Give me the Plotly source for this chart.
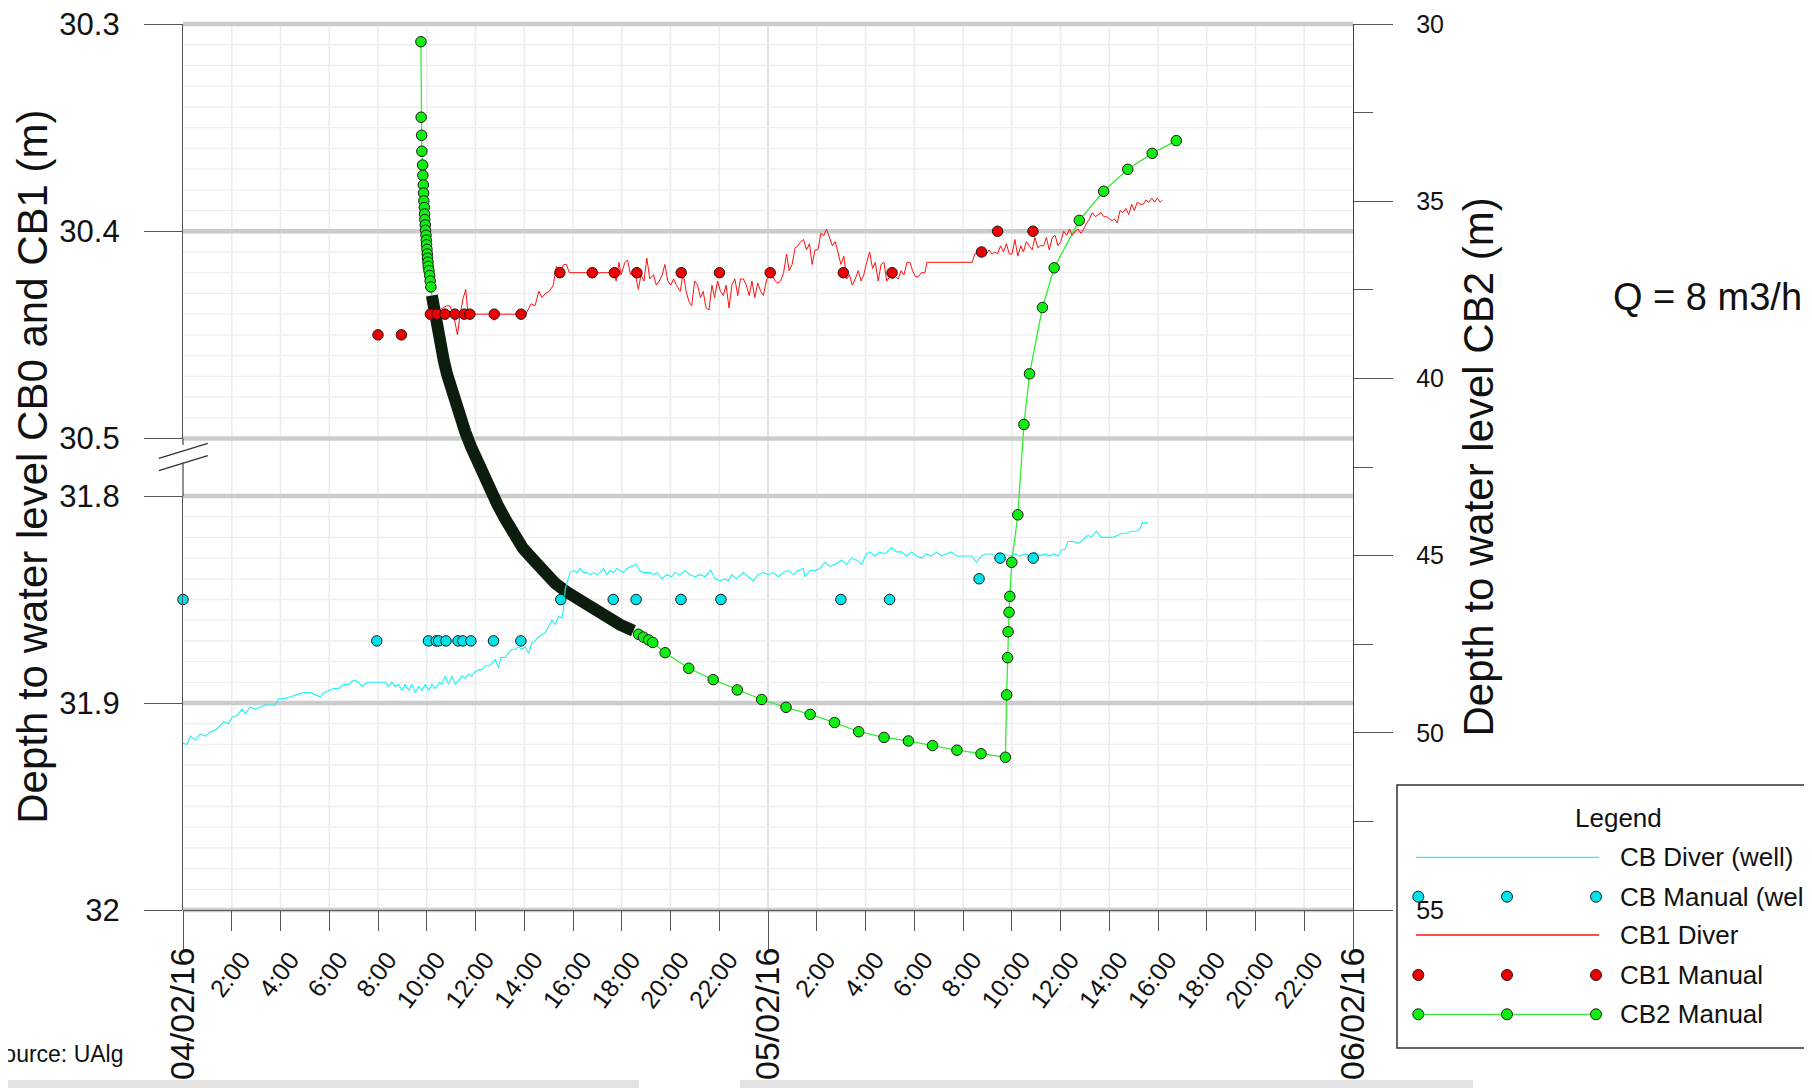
import plotly.graph_objects as go

# ---------------- DATA (time = hours since 04/02/16 00:00) ----------------
# CB Diver (well) - depth to water (m), lower left axis segment
cb_diver = [(0.00,31.9195),(0.17,31.920),(0.30,31.916),(0.51,31.918),(0.71,31.915),(0.92,31.916),(1.12,31.914),(1.33,31.913),(1.53,31.911),(1.67,31.909),(1.87,31.910),(2.01,31.907),(2.22,31.906),(2.42,31.903),(2.56,31.905),(2.76,31.902),(2.97,31.903),(3.17,31.902),(3.38,31.901),(3.58,31.901),(3.79,31.901),(3.92,31.898),(4.13,31.898),(4.40,31.897),(4.68,31.896),(4.95,31.895),(5.22,31.895),(5.43,31.896),(5.63,31.897),(5.77,31.895),(5.98,31.894),(6.18,31.893),(6.39,31.893),(6.59,31.891),(6.80,31.891),(7.00,31.889),(7.20,31.890),(7.34,31.892),(7.55,31.890),(7.82,31.890),(8.30,31.890),(8.43,31.892),(8.57,31.890),(8.71,31.892),(8.84,31.891),(8.98,31.894),(9.12,31.891),(9.26,31.894),(9.39,31.891),(9.53,31.895),(9.67,31.892),(9.80,31.894),(9.94,31.891),(10.08,31.894),(10.21,31.891),(10.35,31.893),(10.53,31.890),(10.62,31.891),(10.76,31.887),(10.89,31.891),(11.03,31.887),(11.17,31.891),(11.30,31.889),(11.44,31.887),(11.58,31.888),(11.72,31.886),(11.85,31.887),(11.99,31.885),(12.12,31.884),(12.26,31.884),(12.40,31.882),(12.54,31.882),(12.67,31.881),(12.81,31.879),(12.95,31.883),(13.04,31.878),(13.22,31.878),(13.36,31.876),(13.49,31.874),(13.63,31.874),(13.76,31.873),(13.90,31.874),(14.04,31.873),(14.18,31.876),(14.31,31.871),(14.45,31.870),(14.59,31.868),(14.72,31.867),(14.86,31.866),(15.00,31.863),(15.13,31.860),(15.27,31.862),(15.41,31.858),(15.54,31.859),(15.61,31.855),(15.68,31.845),(15.77,31.841),(15.88,31.837),(16.02,31.836),(16.16,31.837),(16.29,31.835),(16.43,31.837),(16.57,31.837),(16.70,31.838),(16.84,31.837),(16.98,31.838),(17.11,31.837),(17.25,31.835),(17.39,31.838),(17.52,31.836),(17.66,31.837),(17.80,31.835),(17.93,31.836),(18.07,31.837),(18.21,31.835),(18.41,31.834),(18.59,31.833),(18.73,31.836),(18.89,31.837),(19.03,31.837),(19.16,31.837),(19.30,31.838),(19.46,31.837),(19.64,31.840),(19.85,31.838),(20.05,31.839),(20.18,31.837),(20.39,31.838),(20.60,31.836),(20.80,31.838),(21.01,31.839),(21.21,31.838),(21.42,31.839),(21.65,31.836),(21.83,31.840),(22.03,31.841),(22.24,31.840),(22.37,31.841),(22.51,31.838),(22.71,31.840),(22.99,31.837),(23.19,31.839),(23.40,31.841),(23.60,31.838),(23.81,31.837),(24.01,31.838),(24.22,31.837),(24.42,31.839),(24.63,31.837),(24.83,31.836),(25.04,31.838),(25.24,31.836),(25.45,31.835),(25.51,31.839),(25.72,31.836),(25.93,31.836),(26.13,31.835),(26.34,31.832),(26.54,31.834),(26.75,31.833),(27.02,31.831),(27.22,31.833),(27.43,31.830),(27.63,31.831),(27.84,31.833),(28.04,31.828),(28.18,31.827),(28.38,31.829),(28.59,31.827),(28.80,31.828),(29.07,31.825),(29.27,31.827),(29.48,31.827),(29.68,31.829),(29.89,31.827),(30.09,31.829),(30.30,31.830),(30.50,31.828),(30.71,31.829),(30.91,31.827),(31.12,31.829),(31.32,31.828),(31.53,31.827),(31.73,31.829),(31.94,31.829),(32.14,31.829),(32.35,31.829),(32.55,31.832),(32.76,31.829),(32.96,31.828),(33.17,31.828),(33.37,31.829),(33.65,31.828),(33.92,31.829),(34.13,31.828),(34.33,31.829),(34.54,31.828),(34.74,31.829),(34.95,31.827),(35.15,31.829),(35.36,31.828),(35.56,31.829),(35.70,31.828),(35.90,31.829),(36.04,31.826),(36.18,31.826),(36.31,31.822),(36.52,31.822),(36.72,31.823),(36.93,31.821),(37.13,31.819),(37.27,31.820),(37.47,31.817),(37.68,31.820),(37.88,31.820),(38.16,31.820),(38.36,31.819),(38.50,31.818),(38.70,31.818),(38.91,31.817),(39.11,31.817),(39.25,31.816),(39.36,31.813),(39.46,31.813),(39.59,31.813)]

# CB Manual (well)
cb_manual = [(0.00,31.85),(7.95,31.87),(10.07,31.87),(10.39,31.87),(10.49,31.87),(10.79,31.87),(11.28,31.87),(11.48,31.87),(11.81,31.87),(12.74,31.87),(13.86,31.87),(15.50,31.85),(17.65,31.85),(18.59,31.85),(20.43,31.85),(22.07,31.85),(26.99,31.85),(28.99,31.85),(32.66,31.84),(33.52,31.83),(34.88,31.83)]

# CB1 Diver - upper left axis segment
cb1_diver = [(10.12,30.440),(10.52,30.438),(10.81,30.436),(10.95,30.436),(11.11,30.441),(11.26,30.450),(11.38,30.439),(11.50,30.432),(11.60,30.428),(11.69,30.440),(11.79,30.440),(12.68,30.440),(12.77,30.443),(12.87,30.440),(13.89,30.440),(14.01,30.441),(14.15,30.438),(14.28,30.435),(14.44,30.436),(14.60,30.429),(14.73,30.432),(14.87,30.430),(15.03,30.429),(15.19,30.426),(15.32,30.417),(15.46,30.420),(15.62,30.416),(15.73,30.416),(15.85,30.420),(16.79,30.420),(17.70,30.420),(17.77,30.424),(17.89,30.415),(17.97,30.421),(18.13,30.415),(18.24,30.414),(18.36,30.421),(18.52,30.419),(18.68,30.428),(18.79,30.421),(18.91,30.424),(19.03,30.413),(19.15,30.423),(19.30,30.421),(19.42,30.426),(19.54,30.424),(19.66,30.421),(19.77,30.416),(19.89,30.424),(20.01,30.426),(20.13,30.423),(20.24,30.426),(20.40,30.429),(20.52,30.420),(20.64,30.429),(20.76,30.434),(20.87,30.436),(20.99,30.424),(21.11,30.426),(21.23,30.432),(21.34,30.429),(21.46,30.437),(21.58,30.438),(21.70,30.426),(21.81,30.432),(21.93,30.424),(22.05,30.429),(22.17,30.431),(22.28,30.426),(22.40,30.437),(22.52,30.426),(22.64,30.423),(22.76,30.431),(22.87,30.423),(22.99,30.423),(23.11,30.426),(23.23,30.431),(23.34,30.424),(23.46,30.432),(23.58,30.425),(23.70,30.429),(23.81,30.431),(23.93,30.424),(24.05,30.420),(24.17,30.421),(24.29,30.424),(24.40,30.425),(24.52,30.424),(24.64,30.420),(24.76,30.411),(24.87,30.419),(24.99,30.416),(25.11,30.408),(25.23,30.407),(25.34,30.405),(25.46,30.404),(25.58,30.409),(25.70,30.406),(25.81,30.416),(25.93,30.409),(26.05,30.409),(26.17,30.401),(26.29,30.402),(26.40,30.399),(26.52,30.403),(26.64,30.407),(26.76,30.405),(26.87,30.410),(26.99,30.416),(27.11,30.412),(27.23,30.423),(27.34,30.421),(27.46,30.426),(27.58,30.423),(27.70,30.419),(27.82,30.424),(27.93,30.421),(28.05,30.415),(28.17,30.410),(28.29,30.418),(28.40,30.415),(28.52,30.424),(28.64,30.416),(28.76,30.415),(28.87,30.424),(28.99,30.422),(29.11,30.423),(29.23,30.422),(29.34,30.423),(29.46,30.419),(29.58,30.421),(29.70,30.415),(29.82,30.415),(29.93,30.419),(30.05,30.422),(30.17,30.422),(30.29,30.420),(30.44,30.420),(30.52,30.415),(32.38,30.415),(32.48,30.411),(32.64,30.410),(32.76,30.411),(32.91,30.412),(33.07,30.409),(33.19,30.411),(33.31,30.410),(33.42,30.411),(33.54,30.407),(33.66,30.410),(33.78,30.406),(33.90,30.411),(34.01,30.411),(34.13,30.404),(34.25,30.412),(34.37,30.407),(34.48,30.410),(34.60,30.405),(34.72,30.407),(34.84,30.409),(34.95,30.403),(35.07,30.408),(35.19,30.407),(35.31,30.407),(35.42,30.403),(35.54,30.409),(35.66,30.403),(35.78,30.402),(35.90,30.407),(36.01,30.405),(36.13,30.400),(36.25,30.402),(36.37,30.399),(36.48,30.402),(36.60,30.400),(36.72,30.399),(36.84,30.401),(36.95,30.399),(37.07,30.396),(37.19,30.394),(37.31,30.391),(37.43,30.393),(37.54,30.392),(37.66,30.391),(37.78,30.393),(37.90,30.393),(38.01,30.394),(38.13,30.395),(38.21,30.394),(38.33,30.396),(38.44,30.390),(38.56,30.391),(38.68,30.389),(38.80,30.392),(38.92,30.387),(39.03,30.390),(39.15,30.386),(39.27,30.387),(39.39,30.387),(39.50,30.385),(39.62,30.386),(39.74,30.384),(39.86,30.386),(39.97,30.384),(40.09,30.386),(40.17,30.385)]

# CB1 Manual
cb1_manual = [(8.00,30.45),(8.96,30.45),(10.15,30.44),(10.42,30.44),(10.75,30.44),(11.16,30.44),(11.54,30.44),(11.77,30.44),(12.77,30.44),(13.87,30.44),(15.46,30.42),(16.79,30.42),(17.70,30.42),(18.62,30.42),(20.44,30.42),(22.01,30.42),(24.09,30.42),(27.09,30.42),(29.09,30.42),(32.76,30.41),(33.42,30.40),(34.87,30.40)]

# CB2 Manual - right axis
cb2_manual = [(9.76,30.50),(9.77,32.63),(9.79,33.14),(9.80,33.59),(9.83,33.98),(9.84,34.27),(9.86,34.54),(9.87,34.77),(9.88,34.99),(9.90,35.18),(9.91,35.36),(9.92,35.52),(9.94,35.67),(9.95,35.82),(9.97,35.96),(9.98,36.10),(9.99,36.23),(10.01,36.36),(10.02,36.49),(10.03,36.61),(10.05,36.72),(10.06,36.84),(10.09,36.96),(10.12,37.10),(10.14,37.25),(10.17,37.42),(10.21,37.66),(10.28,38.01),(10.36,38.36),(10.46,38.71),(10.55,39.06),(10.69,39.47),(10.83,39.88),(10.99,40.29),(11.17,40.70),(11.37,41.10),(11.58,41.51),(11.81,41.92),(12.06,42.33),(12.33,42.74),(12.60,43.15),(12.90,43.56),(13.22,43.97),(13.56,44.38),(13.94,44.79),(14.35,45.10),(14.79,45.45),(15.27,45.78),(15.75,46.03),(16.29,46.28),(16.84,46.52),(17.39,46.74),(17.93,46.95),(18.48,47.12),(18.69,47.22),(18.89,47.30),(19.10,47.38),(19.27,47.45),(19.78,47.74),(20.75,48.18),(21.75,48.50),(22.74,48.79),(23.74,49.06),(24.74,49.28),(25.73,49.48),(26.73,49.71),(27.72,49.97),(28.76,50.13),(29.76,50.23),(30.75,50.36),(31.75,50.49),(32.74,50.59),(33.74,50.69),(33.79,48.93),(33.83,47.88),(33.85,47.15),(33.89,46.60),(33.92,46.15),(34.00,45.19),(34.25,43.85),(34.50,41.30),(34.73,39.87),(35.26,38.00),(35.74,36.88),(36.77,35.54),(37.77,34.72),(38.76,34.10),(39.76,33.65),(40.75,33.29)]
cb2_dense_window = (10.2, 18.5)   # period of very frequent readings (drawn as a dense band)

hour_tickvals = [2, 4, 6, 8, 10, 12, 14, 16, 18, 20, 22, 26, 28, 30, 32, 34, 36, 38, 40, 42, 44, 46]
hour_ticklabels = ["2:00", "4:00", "6:00", "8:00", "10:00", "12:00", "14:00", "16:00", "18:00", "20:00", "22:00",
                   "2:00", "4:00", "6:00", "8:00", "10:00", "12:00", "14:00", "16:00", "18:00", "20:00", "22:00"]
date_tickvals = [0, 24, 48]
date_ticklabels = ["04/02/16", "05/02/16", "06/02/16"]
upper_tickvals = [30.3, 30.4, 30.5]
upper_ticklabels = ["30.3", "30.4", "30.5"]
lower_tickvals = [31.8, 31.9, 32.0]
lower_ticklabels = ["31.8", "31.9", "32"]
right_tickvals = [30, 35, 40, 45, 50, 55]
right_ticklabels = ["30", "35", "40", "45", "50", "55"]
legend_names = ["CB Diver (well)", "CB Manual (well)", "CB1 Diver", "CB1 Manual", "CB2 Manual"]

# ---------------- STYLE ----------------
FONT = "Liberation Sans, Arial, sans-serif"
AX = "#555555"
CYAN_LINE, CYAN_FILL = "#19f5f5", "#00e3ea"
RED_LINE, RED_FILL = "#ff1010", "#ee0000"
GREEN_LINE, GREEN_FILL = "#33ee33", "#11ee11"
BAND = "#0d1d0d"
MK = 10.5
X_RANGE = [0, 48]
UP_RANGE = [30.5, 30.3]
LO_RANGE = [32.0, 31.8]


def split(pairs):
    return [p[0] for p in pairs], [p[1] for p in pairs]


cbd_t, cbd_v = split(cb_diver)
cbm_t, cbm_v = split(cb_manual)
c1d_t, c1d_v = split(cb1_diver)
c1m_t, c1m_v = split(cb1_manual)
c2_t, c2_v = split(cb2_manual)
lo, hi = cb2_dense_window
band = [p for p in cb2_manual if lo <= p[0] <= hi]
sparse = [p for p in cb2_manual if not (lo < p[0] < hi)]
band_t, band_v = split(band)
sp_t, sp_v = split(sparse)

fig = go.Figure()
# CB2 (right axis, full height) – drawn first (underneath)
fig.add_trace(go.Scatter(x=c2_t, y=c2_v, mode="lines", line=dict(color=GREEN_LINE, width=1.3),
                         xaxis="x", yaxis="y", showlegend=False))
fig.add_trace(go.Scatter(x=band_t, y=band_v, mode="lines", line=dict(color=BAND, width=12),
                         xaxis="x", yaxis="y", showlegend=False))
fig.add_trace(go.Scatter(x=sp_t, y=sp_v, mode="markers",
                         marker=dict(size=MK, color=GREEN_FILL, line=dict(color="#1a1a1a", width=1)),
                         xaxis="x", yaxis="y", cliponaxis=False, showlegend=False))
fig.add_trace(go.Scatter(x=[], y=[], xaxis="x2", yaxis="y", showlegend=False))
# CB1 (upper left segment)
fig.add_trace(go.Scatter(x=c1d_t, y=c1d_v, mode="lines", line=dict(color=RED_LINE, width=1),
                         xaxis="x", yaxis="y2", showlegend=False))
fig.add_trace(go.Scatter(x=c1m_t, y=c1m_v, mode="markers",
                         marker=dict(size=MK, color=RED_FILL, line=dict(color="#1a1a1a", width=1)),
                         xaxis="x", yaxis="y2", cliponaxis=False, showlegend=False))
# CB well (lower left segment)
fig.add_trace(go.Scatter(x=cbd_t, y=cbd_v, mode="lines", line=dict(color=CYAN_LINE, width=1.1),
                         xaxis="x", yaxis="y3", showlegend=False))
fig.add_trace(go.Scatter(x=cbm_t, y=cbm_v, mode="markers",
                         marker=dict(size=MK, color=CYAN_FILL, line=dict(color="#1a1a1a", width=1)),
                         xaxis="x", yaxis="y3", cliponaxis=False, showlegend=False))

# geometry: the page body adds an 8px offset, so the figure is 8px smaller than the window
PAGE_OFF = 8
WIN_W, WIN_H = 1812, 1088
PLOT_L, PLOT_R, PLOT_T, PLOT_B = 183, 1353, 24, 910      # plot area in window pixels
W, H = WIN_W - PAGE_OFF, WIN_H - PAGE_OFF
PW, PH = PLOT_R - PLOT_L, PLOT_B - PLOT_T


def px(x):
    return (x - PLOT_L) / PW


def py(y):
    return (PLOT_B - y) / PH


top_dom = [py(438.5), 1.0]
bot_dom = [0.0, py(496)]

tick_font = dict(family=FONT, color="#111111")
left_axis_common = dict(anchor="x", side="left", tickmode="array", ticks="outside", ticklen=38,
                        tickwidth=1.3, tickcolor=AX, showline=True, linecolor=AX, linewidth=1.3,
                        showgrid=False, zeroline=False, ticklabelstandoff=18, automargin=False,
                        ticklabeloverflow="allow", tickfont=dict(size=31, **tick_font))

fig.update_layout(
    template="none",
    width=W, height=H,
    margin=dict(l=PLOT_L - PAGE_OFF, r=WIN_W - PLOT_R, t=PLOT_T - PAGE_OFF, b=WIN_H - PLOT_B,
                autoexpand=False),
    paper_bgcolor="white", plot_bgcolor="rgba(0,0,0,0)", hovermode=False, showlegend=False,
    xaxis=dict(domain=[0, 1], range=X_RANGE, anchor="y", tickmode="array", tickvals=hour_tickvals,
               ticktext=hour_ticklabels, tickangle=-53, ticks="outside", ticklen=20, tickwidth=1.3,
               tickcolor=AX, showline=True, linecolor=AX, linewidth=1.3, showgrid=False,
               zeroline=False, ticklabelstandoff=4, ticklabelshift=10, automargin=False,
               ticklabeloverflow="allow", tickfont=dict(size=25, **tick_font)),
    xaxis2=dict(overlaying="x", anchor="y", side="bottom", range=X_RANGE, tickmode="array",
                tickvals=date_tickvals, ticktext=date_ticklabels, tickangle=-90, ticks="outside",
                ticklen=39, tickwidth=1.3, tickcolor=AX, showline=False, showgrid=False,
                zeroline=False, ticklabelstandoff=-16, automargin=False, ticklabeloverflow="allow",
                tickfont=dict(size=34, **tick_font)),
    yaxis=dict(domain=[0, 1], range=[55, 30], anchor="x", side="right", tickmode="array",
               tickvals=right_tickvals, ticktext=right_ticklabels, ticks="outside", ticklen=39,
               tickwidth=1.3, tickcolor=AX, showline=True, linecolor="#444444", linewidth=1.3,
               showgrid=False, zeroline=False, ticklabelstandoff=18, automargin=False,
               ticklabeloverflow="allow", tickfont=dict(size=25, **tick_font),
               minor=dict(dtick=2.5, tick0=30, ticks="outside", ticklen=19, tickcolor=AX,
                          tickwidth=1.3, showgrid=False)),
    yaxis2=dict(domain=top_dom, range=UP_RANGE, tickvals=upper_tickvals,
                ticktext=upper_ticklabels, **left_axis_common),
    yaxis3=dict(domain=bot_dom, range=LO_RANGE, tickvals=lower_tickvals,
                ticktext=lower_ticklabels, **left_axis_common),
)


def seg_paper(v, rng, dom):
    # value on a left axis segment -> paper y (used only for grid lines)
    return dom[0] + (rng[0] - v) / (rng[0] - rng[1]) * (dom[1] - dom[0])


shapes = []
# grid lines (all in the lowest layer so data always sits on top)
for h in range(2, 48, 2):
    col = "#d9d9d9" if h == 24 else "#ececec"
    shapes.append(dict(type="line", xref="paper", yref="paper", x0=h / X_RANGE[1], x1=h / X_RANGE[1],
                       y0=0, y1=1, line=dict(color=col, width=1.5), layer="below"))
for rng, dom in [(UP_RANGE, top_dom), (LO_RANGE, bot_dom)]:
    for k in range(1, 20):
        v = rng[1] + k * 0.01
        yy = seg_paper(v, rng, dom)
        shapes.append(dict(type="line", xref="paper", yref="paper", x0=0, x1=1, y0=yy, y1=yy,
                           line=dict(color="#eeeeee", width=1.3), layer="below"))
for vals, rng, dom in [(upper_tickvals, UP_RANGE, top_dom), (lower_tickvals, LO_RANGE, bot_dom)]:
    for v in vals:
        yy = seg_paper(v, rng, dom)
        shapes.append(dict(type="line", xref="paper", yref="paper", x0=0, x1=1, y0=yy, y1=yy,
                           line=dict(color="#cccccc", width=4.5), layer="below"))
# axis-break marks and short axis-line stubs
for y_a, y_b in [(458.3, 443.3), (470.7, 455.7)]:
    shapes.append(dict(type="line", xref="paper", yref="paper", x0=px(158.8), x1=px(207.8),
                       y0=py(y_a), y1=py(y_b), line=dict(color="#333333", width=1.3)))
shapes.append(dict(type="line", xref="paper", yref="paper", x0=0, x1=0, y0=py(438.5), y1=py(445),
                   line=dict(color=AX, width=1.3)))
shapes.append(dict(type="line", xref="paper", yref="paper", x0=0, x1=0, y0=py(462), y1=py(496),
                   line=dict(color=AX, width=1.3)))
# bottom strip (screenshot artefact)
for x_a, x_b in [(0, 639), (740, 1473)]:
    shapes.append(dict(type="rect", xref="paper", yref="paper", x0=px(x_a), x1=px(x_b),
                       y0=py(1088), y1=py(1080), line=dict(width=0), fillcolor="#e3e3e3", layer="below"))

# custom legend
shapes.append(dict(type="rect", xref="paper", yref="paper", x0=px(1397), x1=px(1840),
                   y0=py(1048), y1=py(785), line=dict(color="#333333", width=1.5)))
entry_y = [857.3, 896.7, 935.0, 975.0, 1014.3]
marker_x = [1418.3, 1507.0, 1596.0]
legend_style = [("line", CYAN_LINE, None), ("markers", None, CYAN_FILL), ("line", RED_LINE, None),
                ("markers", None, RED_FILL), ("both", GREEN_LINE, GREEN_FILL)]
annotations = []
for name, yy, (kind, lc, fc) in zip(legend_names, entry_y, legend_style):
    if kind in ("line", "both"):
        shapes.append(dict(type="line", xref="paper", yref="paper", x0=px(1416), x1=px(1599),
                           y0=py(yy), y1=py(yy), line=dict(color=lc, width=1.3)))
    if kind in ("markers", "both"):
        for mx in marker_x:
            shapes.append(dict(type="circle", xref="paper", yref="paper", xsizemode="pixel",
                               ysizemode="pixel", xanchor=px(mx), yanchor=py(yy), x0=-5.5, x1=5.5,
                               y0=-5.5, y1=5.5, fillcolor=fc, line=dict(color="#1a1a1a", width=1)))
    annotations.append(dict(text=name, xref="paper", yref="paper", x=px(1618), y=py(yy),
                            xanchor="left", yanchor="middle", showarrow=False,
                            font=dict(family=FONT, size=26, color="#111111")))
annotations.append(dict(text="Legend", xref="paper", yref="paper", x=px(1618), y=py(818),
                        xanchor="center", yanchor="middle", showarrow=False,
                        font=dict(family=FONT, size=26, color="#111111")))
# axis titles and texts
annotations.append(dict(text="Depth to water level CB0 and CB1 (m)", xref="paper", yref="paper",
                        x=px(31.8), y=0.5, textangle=-90, xanchor="center", yanchor="middle",
                        showarrow=False, font=dict(family=FONT, size=42, color="#111111")))
annotations.append(dict(text="Depth to water level CB2 (m)", xref="paper", yref="paper",
                        x=px(1477.5), y=0.5, textangle=-90, xanchor="center", yanchor="middle",
                        showarrow=False, font=dict(family=FONT, size=42, color="#111111")))
annotations.append(dict(text="Q = 8 m3/h", xref="paper", yref="paper", x=px(1611), y=py(297),
                        xanchor="left", yanchor="middle", showarrow=False,
                        font=dict(family=FONT, size=38, color="#111111")))
annotations.append(dict(text="Source: UAlg", xref="paper", yref="paper", x=px(126), y=py(1054),
                        xanchor="right", yanchor="middle", showarrow=False,
                        font=dict(family=FONT, size=23, color="#111111")))

fig.update_layout(shapes=shapes, annotations=annotations)
fig.write_html("out.html")
